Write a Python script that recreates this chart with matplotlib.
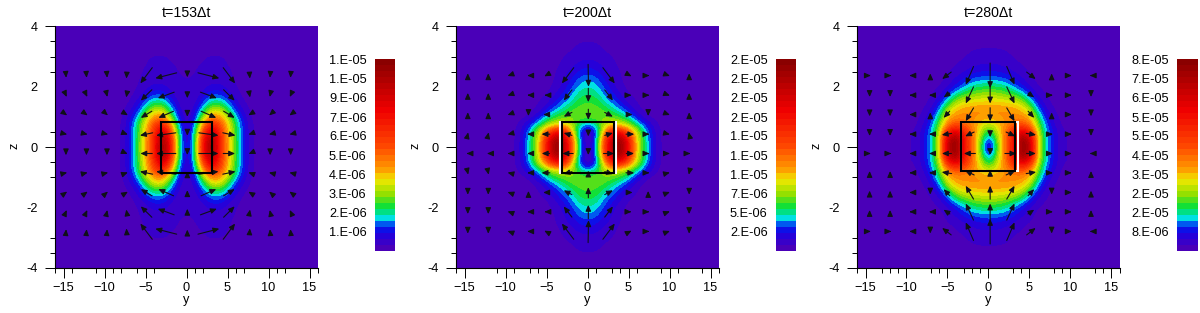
import numpy as np
import matplotlib
matplotlib.use('Agg')
import matplotlib.pyplot as plt
from matplotlib.colors import LinearSegmentedColormap
from matplotlib.patches import Rectangle

plt.rcParams['font.family'] = ['Liberation Sans', 'DejaVu Sans']

W, H = 1200, 313

titles = ['t=153Δt', 't=200Δt', 't=280Δt']
cbar_labels = [
    ['1.E-05', '1.E-05', '9.E-06', '7.E-06', '6.E-06', '5.E-06', '4.E-06', '3.E-06', '2.E-06', '1.E-06'],
    ['2.E-05', '2.E-05', '2.E-05', '2.E-05', '1.E-05', '1.E-05', '1.E-05', '7.E-06', '5.E-06', '2.E-06'],
    ['8.E-05', '7.E-05', '6.E-05', '5.E-05', '5.E-05', '4.E-05', '3.E-05', '2.E-05', '2.E-05', '8.E-06'],
]
x_major = [-15, -10, -5, 0, 5, 10, 15]
x_minor = [
    [-16, -14, -11, -9, -8, -6, -4, 1, 2, 6, 7, 11, 12, 16],
    [-16, -11, -9, -7, -6, 1, 3, 4, 6, 9, 11, 14, 16],
    [-16, -13, -12, -11, -7, -6, -3, -2, -1, 3, 4, 8, 9, 13, 14, 16],
]
z_major = [4, 0, -4]
z_minor = [3.5, 3, 2.5, 0.5, -0.5, -1, -3, -3.5]
z_bare = [2, -2]

# field, fraction of colour scale: rows z = 0..4 by 0.25, columns y = 0..9
field1 = [
    [.03, .22, .72, .98, .66, .42, .24, .09, .03, .01],
    [.03, .22, .70, .96, .66, .42, .24, .09, .03, .01],
    [.03, .19, .60, .85, .62, .40, .23, .09, .03, .01],
    [.03, .15, .45, .68, .56, .38, .22, .09, .03, .01],
    [.03, .10, .30, .46, .44, .32, .17, .07, .02, .01],
    [.03, .07, .19, .33, .33, .22, .10, .05, .02, .01],
    [.03, .05, .12, .20, .20, .14, .07, .03, .01, .00],
    [.03, .04, .07, .12, .12, .08, .04, .02, .01, .00],
    [.03, .04, .05, .07, .07, .05, .03, .02, .01, .00],
    [.03, .04, .04, .05, .05, .04, .03, .01, .00, .00],
    [.02, .03, .04, .04, .04, .04, .02, .01, .00, .00],
    [.02, .03, .03, .04, .04, .03, .02, .01, .00, .00],
    [.02, .03, .03, .03, .03, .03, .01, .00, .00, .00],
    [.02, .03, .03, .03, .03, .02, .01, .00, .00, .00],
    [.02, .02, .03, .03, .02, .02, .01, .00, .00, .00],
    [.02, .02, .02, .02, .02, .01, .00, .00, .00, .00],
    [.02, .02, .02, .02, .02, .01, .00, .00, .00, .00],
]
field2 = [
    [.00, .16, .58, .92, .97, .70, .36, .20, .08, .02],
    [.00, .14, .56, .88, .95, .68, .35, .20, .08, .02],
    [.01, .11, .42, .74, .72, .52, .33, .18, .07, .02],
    [.16, .20, .32, .36, .34, .29, .20, .11, .05, .02],
    [.28, .28, .28, .27, .24, .18, .09, .04, .02, .01],
    [.27, .27, .25, .20, .15, .09, .04, .02, .01, .01],
    [.25, .24, .19, .14, .09, .05, .03, .01, .01, .00],
    [.22, .21, .15, .10, .06, .03, .02, .01, .00, .00],
    [.19, .17, .12, .07, .04, .02, .01, .01, .00, .00],
    [.15, .14, .09, .06, .03, .02, .01, .00, .00, .00],
    [.11, .10, .07, .05, .03, .01, .01, .00, .00, .00],
    [.08, .07, .05, .04, .02, .01, .00, .00, .00, .00],
    [.05, .05, .04, .03, .02, .01, .00, .00, .00, .00],
    [.04, .04, .03, .02, .01, .00, .00, .00, .00, .00],
    [.03, .03, .02, .01, .01, .00, .00, .00, .00, .00],
    [.02, .02, .02, .01, .00, .00, .00, .00, .00, .00],
    [.02, .02, .01, .01, .00, .00, .00, .00, .00, .00],
]
field3 = [
    [.00, .26, .50, .70, .97, .88, .36, .17, .08, .03],
    [.08, .28, .50, .70, .97, .86, .36, .17, .08, .03],
    [.20, .33, .48, .65, .80, .68, .33, .16, .08, .03],
    [.32, .38, .45, .50, .55, .48, .28, .13, .06, .02],
    [.44, .44, .44, .45, .45, .40, .22, .10, .04, .02],
    [.44, .44, .44, .43, .40, .32, .15, .06, .03, .01],
    [.38, .38, .37, .35, .31, .20, .09, .04, .02, .01],
    [.30, .30, .28, .25, .20, .11, .05, .03, .01, .00],
    [.22, .22, .20, .15, .10, .06, .03, .02, .01, .00],
    [.15, .14, .13, .10, .07, .04, .02, .01, .00, .00],
    [.10, .09, .08, .06, .04, .03, .02, .01, .00, .00],
    [.06, .06, .05, .04, .03, .02, .01, .00, .00, .00],
    [.04, .04, .04, .03, .02, .01, .00, .00, .00, .00],
    [.03, .03, .03, .02, .01, .00, .00, .00, .00, .00],
    [.03, .03, .02, .01, .00, .00, .00, .00, .00, .00],
    [.02, .02, .01, .00, .00, .00, .00, .00, .00, .00],
    [.02, .02, .01, .00, .00, .00, .00, .00, .00, .00],
]
fields = [field1, field2, field3]

# arrows: rows run from the top down to the centre row, columns are y >= 0
arrow_rows = [2.37, 1.72, 1.08, 0.43, -0.21]
arrow_cols = [
    [-14.7, -12.2, -9.7, -7.3, -4.9, -2.5, 0.1, 2.7, 5.2, 7.7, 10.2, 12.7],
    [-14.6, -12.1, -9.6, -7.2, -5.1, -2.4, 0.1, 2.6, 5.2, 7.4, 9.9, 12.4],
    [-14.5, -12.0, -9.5, -7.1, -5.1, -2.3, 0.2, 2.7, 5.2, 7.7, 10.0, 12.5],
]
u1 = [
    [.00, 2.60, 1.45, .05, -.05, -.05],
    [.00, 2.00, 1.35, .10, -.10, -.20],
    [.00, 1.85, 1.35, -.30, -.25, -.30],
    [.00, 2.40, 1.55, -.30, -.30, -.30],
    [.00, 2.40, 1.45, -.25, .00, .00],
]
v1 = [
    [-.12, -.18, -.52, -.20, -.15, -.15],
    [-.20, -.20, -.36, -.15, -.12, -.12],
    [-.15, -.22, -.22, -.05, -.06, -.06],
    [-.10, -.09, -.09, -.03, -.02, -.02],
    [-.10, .00, .00, -.03, -.12, -.12],
]
u2 = [
    [.05, 1.45, .35, .30, .30, .00],
    [.00, 1.00, .30, .30, .30, .00],
    [.00, 1.00, .60, .00, .30, .00],
    [.00, 1.00, 1.00, .30, .30, -.10],
    [.00, 1.30, .95, .30, .30, .30],
]
v2 = [
    [-.74, -.52, -.05, .00, -.03, .15],
    [-.46, -.35, .00, .00, -.03, .15],
    [-.35, -.14, .00, -.10, -.03, .15],
    [-.15, .08, .00, .00, -.02, .12],
    [-.10, .00, .00, .00, .00, .00],
]
u3 = [
    [.00, .95, 1.10, .00, .30, -.30],
    [.00, .95, .75, .30, .30, .00],
    [.00, .95, .75, .00, .30, .00],
    [.00, 1.10, 1.20, .30, .30, .00],
    [.00, 1.40, 1.15, .30, .30, -.30],
]
v3 = [
    [-.83, -.60, -.23, .14, .00, .00],
    [-.55, -.55, -.14, .00, .00, -.12],
    [-.45, -.44, -.22, .14, .00, -.12],
    [-.20, -.14, -.05, .00, .00, -.12],
    [-.10, .00, .00, .00, .00, .00],
]
arrows_u = [u1, u2, u3]
arrows_v = [v1, v2, v3]

# box around the conductor: black edges and white edges
box_black = [(-3.08, 3.05, -0.86, 0.84), (-3.1, 3.2, -0.86, 0.84), (-3.35, 3.2, -0.8, 0.82)]
box_white = [None, (-3.3, 3.45, -0.86, 0.84), (-3.35, 3.55, -0.8, 0.82)]

# layout in picture pixels
ax_left = [55.3, 456.3, 857.3]
ax_width = 262.4
ax_top, ax_bottom = 26.3, 268.0
bar_left = [374.5, 775.5, 1176.5]
bar_width = 20
bar_top, bar_bottom = 60, 250
label_left = [329, 730, 1131.5]
label_y = [61, 80, 99, 118.5, 137.5, 157, 176, 195, 214, 233]

cmap = LinearSegmentedColormap.from_list('bands', [
    (0.00, '#4a00b8'), (0.06, '#2a00d8'), (0.115, '#0018f0'), (0.157, '#00e0f0'),
    (0.217, '#00e040'), (0.287, '#90e000'), (0.365, '#f0e800'), (0.426, '#ff9800'),
    (0.548, '#ff4800'), (0.74, '#f00000'), (1.00, '#8a0000'),
], N=32)


def draw_arrows(ax, cols, u, v):
    u = np.array(u)
    v = np.array(v)
    rows = list(arrow_rows) + [2 * arrow_rows[-1] - z for z in arrow_rows[-2::-1]]
    for i, z in enumerate(rows):
        row = i if i < 5 else 8 - i
        sign = 1 if i < 5 else -1
        for j, y in enumerate(cols):
            # column 6 sits on the axis, the left ones mirror the right ones
            k = j - 6 if j >= 6 else min(6 - j, 5)
            du = u[row, k] if j >= 6 else -u[row, k]
            dv = sign * v[row, k]
            ax.annotate('', xy=(y + du / 2, z + dv / 2), xytext=(y - du / 2, z - dv / 2),
                        arrowprops=dict(arrowstyle='-|>,head_length=0.45,head_width=0.2', mutation_scale=8,
                                        lw=0.8, color='#101018', shrinkA=0, shrinkB=0), zorder=4)


fig = plt.figure(figsize=(W / 100, H / 100), dpi=100)

for p in range(3):
    ax = fig.add_axes([ax_left[p] / W, 1 - ax_bottom / H, ax_width / W, (ax_bottom - ax_top) / H])
    ax.set_facecolor(cmap(0))
    q = np.array(fields[p])
    right = np.vstack([q[:0:-1], q])
    full = np.hstack([right[:, :0:-1], right])
    ax.imshow(full, origin='lower', cmap=cmap, vmin=0, vmax=1, aspect='auto',
              interpolation='bicubic', interpolation_stage='data',
              extent=[-9.5, 9.5, -4.125, 4.125])
    ax.set_xlim(-16, 16)
    ax.set_ylim(-4, 4)

    draw_arrows(ax, arrow_cols[p], arrows_u[p], arrows_v[p])

    if box_white[p]:
        y0, y1, z0, z1 = box_white[p]
        ax.add_patch(Rectangle((y0, z0), y1 - y0, z1 - z0, fill=False, ec='white', lw=1.5, zorder=5))
    y0, y1, z0, z1 = box_black[p]
    ax.add_patch(Rectangle((y0, z0), y1 - y0, z1 - z0, fill=False, ec='black', lw=1.5, zorder=6))

    for s in ['top', 'right']:
        ax.spines[s].set_visible(False)
    for s in ['left', 'bottom']:
        ax.spines[s].set_linewidth(0.8)

    ax.set_xticks(x_major)
    ax.set_xticks(x_minor[p], minor=True)
    ax.set_yticks(z_major + z_bare)
    ax.set_yticklabels(['4', '0', '-4', '2', '-2'])
    ax.set_yticks(z_minor, minor=True)
    ax.tick_params(which='major', length=7.2, width=0.7, labelsize=9.2)
    ax.tick_params(axis='x', which='major', pad=3)
    ax.tick_params(axis='y', which='major', pad=5.5)
    ax.tick_params(which='minor', length=3.6, width=0.7)
    for t, val in zip(ax.yaxis.get_major_ticks(), z_major + z_bare):
        if val in z_bare:
            t.tick1line.set_visible(False)
    ax.set_title(titles[p], fontsize=10.2, pad=6.5)
    fig.text((ax_left[p] + ax_width / 2) / W, 1 - 300 / H, 'y', fontsize=9.2, ha='center', va='center')
    fig.text((ax_left[p] - 41) / W, 1 - 146 / H, 'z', fontsize=9.2, rotation=90, ha='center', va='center')

    cax = fig.add_axes([bar_left[p] / W, 1 - (bar_bottom + 1) / H, bar_width / W, (bar_bottom - bar_top + 2) / H])
    cax.imshow(np.linspace(1, 0, 32).reshape(-1, 1), cmap=cmap, vmin=0, vmax=1, aspect='auto',
               extent=[0, 1, -0.005, 1.005], interpolation='nearest')
    cax.axis('off')
    for c, yc in [(cmap(1.0), bar_top - 1), (cmap(0.0), bar_bottom)]:
        fig.patches.append(Rectangle(((bar_left[p] + 3) / W, 1 - (yc + 1) / H), (bar_width - 6) / W, 1 / H,
                                     transform=fig.transFigure, fc=c, ec='none'))
    for lab, yl in zip(cbar_labels[p], label_y):
        fig.text(label_left[p] / W, 1 - yl / H, lab, fontsize=9.2, ha='left', va='center')

fig.savefig('out.png', dpi=100)
